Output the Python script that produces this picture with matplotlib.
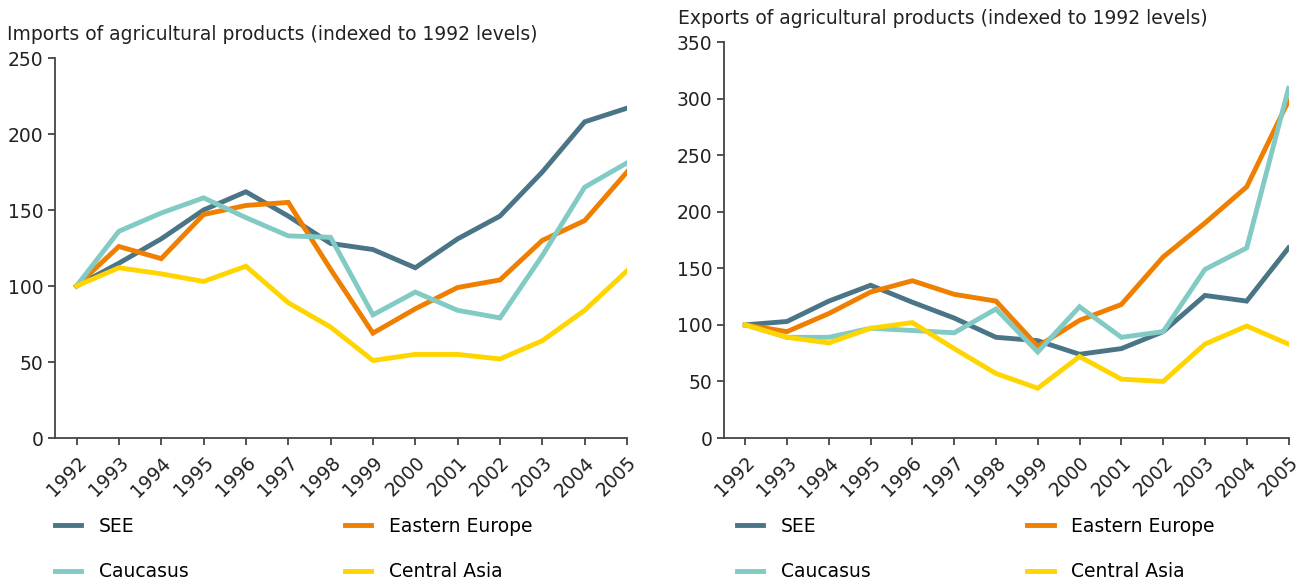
import numpy as np
import matplotlib
matplotlib.use('Agg')
import matplotlib.pyplot as plt

years = list(range(1992, 2006))

# imports (indexed to 1992)
imp_see = [100, 115, 131, 150, 162, 146, 128, 124, 112, 131, 146, 175, 208, 217]
imp_ee = [100, 126, 118, 147, 153, 155, 111, 69, 85, 99, 104, 130, 143, 175]
imp_cau = [100, 136, 148, 158, 145, 133, 132, 81, 96, 84, 79, 120, 165, 181]
imp_ca = [100, 112, 108, 103, 113, 89, 73, 51, 55, 55, 52, 64, 84, 110]

# exports (indexed to 1992)
exp_see = [100, 103, 121, 135, 120, 106, 89, 86, 74, 79, 94, 126, 121, 168]
exp_ee = [100, 94, 110, 129, 139, 127, 121, 81, 104, 118, 160, 190, 222, 298]
exp_cau = [100, 89, 89, 97, 95, 93, 114, 76, 116, 89, 94, 149, 168, 309]
exp_ca = [100, 89, 84, 97, 102, 79, 57, 44, 72, 52, 50, 83, 99, 83]

names = ['SEE', 'Eastern Europe', 'Caucasus', 'Central Asia']
colors = ['#4a7587', '#ee7f00', '#82cac4', '#ffd500']

plt.rcParams['font.family'] = ['DejaVu Sans']

fig = plt.figure(figsize=(13.06, 5.83), dpi=100)
W, H = 1306.0, 583.0

ax1 = fig.add_axes([54.5 / W, 1 - 438 / H, 572.5 / W, 380 / H])
ax2 = fig.add_axes([723.5 / W, 1 - 438 / H, 565 / W, 396 / H])


def draw(ax, series, ymax, title, tx, ty, lx, ly):
    x = np.arange(len(years))
    for s, c, n in zip(series, colors, names):
        ax.plot(x, s, color=c, lw=3.5, label=n, solid_joinstyle='miter')
    ax.set_xlim(-0.52, len(years) - 1)
    ax.set_ylim(0, ymax)
    ax.set_yticks(range(0, ymax + 1, 50))
    ax.set_xticks(x)
    ax.set_xticklabels([str(y) for y in years], rotation=45, ha='right',
                       rotation_mode='anchor')
    for sp in ['top', 'right']:
        ax.spines[sp].set_visible(False)
    for sp in ['left', 'bottom']:
        ax.spines[sp].set_color('#444444')
        ax.spines[sp].set_linewidth(1.3)
    ax.tick_params(axis='both', colors='#444444', length=5, width=1.3,
                   labelsize=13.5, labelcolor='#222222', pad=3)
    ax.tick_params(axis='x', pad=6)
    fig.text(tx / W, 1 - ty / H, title, fontsize=13.5, color='#222222',
             ha='left', va='center')
    h, l = ax.get_legend_handles_labels()
    # legend fills column-wise, so reorder to get SEE / Eastern Europe on row 1
    order = [0, 2, 1, 3]
    fig.legend([h[i] for i in order], [l[i] for i in order], ncol=2,
               loc='upper left', bbox_to_anchor=(lx / W, 1 - ly / H),
               frameon=False, fontsize=13.5, handlelength=1.4,
               handletextpad=0.95, columnspacing=8.35, labelspacing=1.4,
               borderpad=0, borderaxespad=0)


draw(ax1, [imp_see, imp_ee, imp_cau, imp_ca], 250,
     'Imports of agricultural products (indexed to 1992 levels)', 7, 35, 54.5, 517)
draw(ax2, [exp_see, exp_ee, exp_cau, exp_ca], 350,
     'Exports of agricultural products (indexed to 1992 levels)', 678, 18, 737, 517)

fig.savefig('out.png', dpi=100)
